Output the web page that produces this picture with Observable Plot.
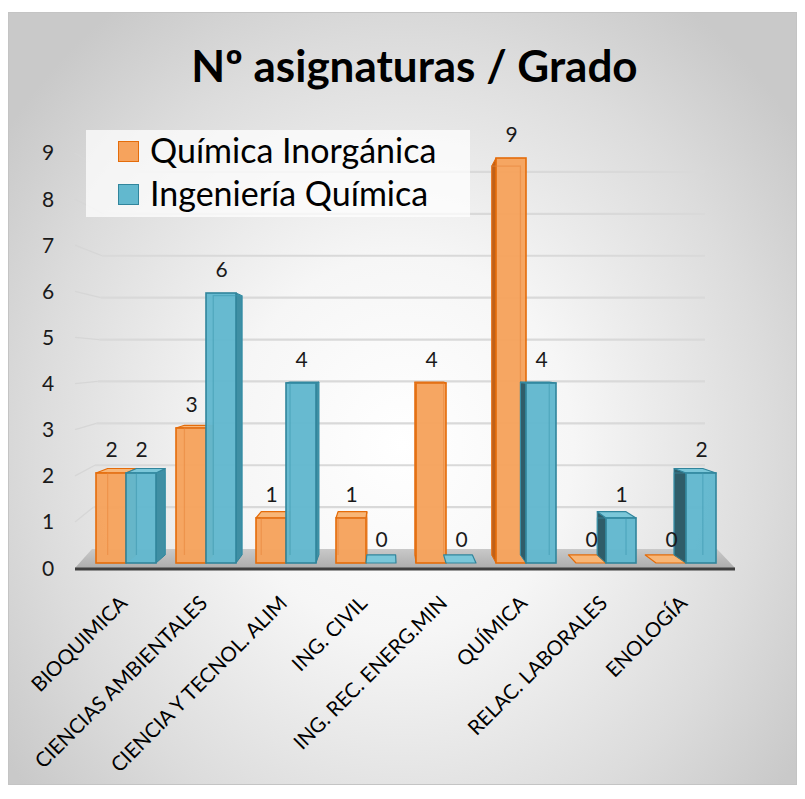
<!DOCTYPE html>
<html><head><meta charset="utf-8">
<script src="https://cdn.jsdelivr.net/npm/d3@7"></script>
<script src="https://cdn.jsdelivr.net/npm/@observablehq/plot@0.6"></script>
<style>
html,body{margin:0;padding:0;background:#fff;}
body{width:805px;height:799px;position:relative;overflow:hidden;font-family:Lato, sans-serif;}
#frame{position:absolute;left:8px;top:12px;width:789px;height:773px;box-sizing:border-box;border:1px solid #c4c4c4;
 background: radial-gradient(ellipse 62% 70% at 50% 56%, #ffffff 0%, #f6f6f6 35%, #dcdcdc 75%, #c9c9c9 100%);}
#title{position:absolute;left:20px;top:39px;width:789px;text-align:center;font-weight:700;font-size:44px;line-height:52.8px;color:#000;white-space:nowrap;}
#chart{position:absolute;left:8px;top:122px;}
#legend{position:absolute;left:86px;top:130px;width:384px;height:87px;background:rgba(255,255,255,0.72);}
.lrow{position:absolute;left:0;width:384px;height:43px;font-size:34px;line-height:40px;color:#000;white-space:nowrap;}
.lrow .sw{position:absolute;left:32px;top:11px;width:19px;height:19px;border:1.5px solid;}
.lrow .lt{position:absolute;left:64px;top:0px;}
</style>
</head><body>
<div id="frame"></div>
<div id="title"></div>
<div id="chart"></div>
<div id="legend"></div>
<script>
// ---- data ----
const titleText = "Nº asignaturas / Grado";
const categories = ["BIOQUIMICA","CIENCIAS AMBIENTALES","CIENCIA Y TECNOL. ALIM","ING. CIVIL","ING. REC. ENERG.MIN","QUÍMICA","RELAC. LABORALES","ENOLOGÍA"];
const seriesNames = ["Química Inorgánica","Ingeniería Química"];
const quimicaInorganica = [2,3,1,1,4,9,0,0];
const ingenieriaQuimica = [2,6,4,0,0,4,1,2];
const yTicks = [0,1,2,3,4,5,6,7,8,9];

// ---- styles ----
const styles = [
  {front:"#F6A35D", stroke:"#E46C0A", top:"#F8B677", sideR:"#E0812F", sideL:"#BF6118", back:"#E8853A"},
  {front:"#62B8CE", stroke:"#31859C", top:"#7BC7D9", sideR:"#3F8FA4", sideL:"#2F5D69", back:"#3C97AE"}
];

const rowsO = categories.map((c,i)=>({cat:c, series:seriesNames[0], value:quimicaInorganica[i]}));
const rowsB = categories.map((c,i)=>({cat:c, series:seriesNames[1], value:ingenieriaQuimica[i]}));

const NS = "http://www.w3.org/2000/svg";
function el(tag, attrs){const e=document.createElementNS(NS,tag);for(const k in attrs)e.setAttribute(k,attrs[k]);return e;}
const pts = a => a.map(p=>p[0].toFixed(2)+","+p[1].toFixed(2)).join(" ");
function perspective(scales, dim){
  const x0=dim.marginLeft, x1=dim.width-dim.marginRight;
  const vx = x0+(x1-x0)*0.47, vy = scales.y(4.5);
  return (px,py,k)=>[vx+(px-vx)*k, vy+(py-vy)*k];
}

function scene(index, scales, values, dim){
  const P = perspective(scales, dim);
  const y = scales.y;
  const x0=dim.marginLeft, x1=dim.width-dim.marginRight;
  const yF = v => P(0,y(v),1.025)[1];
  const yB = v => P(0,y(v),0.931)[1];
  const g = el("g",{});
  const defs = el("defs",{});
  const lg = el("linearGradient",{id:"floorGrad",x1:0,y1:0,x2:0,y2:1});
  lg.append(el("stop",{offset:"0%","stop-color":"#c9c9c9"}));
  lg.append(el("stop",{offset:"100%","stop-color":"#adadad"}));
  defs.append(lg); g.append(defs);
  for(const v of yTicks){ if(v===0) continue;
    const xl = x0+6+13*v/9;
    g.append(el("line",{x1:x0-11,y1:yF(v),x2:xl,y2:yB(v),stroke:"#d6d6d6","stroke-width":1.3}));
    g.append(el("line",{x1:xl,y1:yB(v),x2:x1-21,y2:yB(v),stroke:"#d9d9d9","stroke-width":2.2}));
  }
  g.append(el("polygon",{points:pts([[x0-11,yF(0)],[x1+9,yF(0)],[x1-9,yB(0)],[x0+6,yB(0)]]),fill:"url(#floorGrad)"}));
  g.append(el("line",{x1:x0-11,y1:yF(0)+1,x2:x1+9,y2:yF(0)+1,stroke:"#3f3f3f","stroke-width":3}));
  for(const v of yTicks){
    const t=el("text",{x:x0-38,y:yF(v),"text-anchor":"middle",dy:"0.36em","font-size":21,fill:"#1a1a1a"});
    t.textContent=String(v); g.append(t);
  }
  return g;
}

function bar3d(st){
  return function(index, scales, values, dim, context, next){
    const g = next(index, scales, values, dim, context);
    const P = perspective(scales, dim);
    const k = 0.96;
    const vx = P(0,0,0)[0];
    const rects = Array.from(g.querySelectorAll("rect"));
    for(const r of rects){
      const ax=+r.getAttribute("x"), ay=+r.getAttribute("y"), w=+r.getAttribute("width"), h=+r.getAttribute("height");
      const xa=ax, xb=ax+w, yt=ay, yb=ay+h;
      const [bxa,byt]=P(xa,yt,k), [bxb]=P(xb,yt,k), [,byb]=P(xa,yb,k);
      const grp = el("g",{});
      if(h>0.5){
        if(xb < vx){
          grp.append(el("polygon",{points:pts([[xb,yt],[xb,yb],[bxb,byb],[bxb,byt]]),fill:st.sideR,stroke:st.stroke,"stroke-width":1,"stroke-linejoin":"round"}));
        } else if(xa > vx){
          grp.append(el("polygon",{points:pts([[xa,yt],[xa,yb],[bxa,byb],[bxa,byt]]),fill:st.sideL,stroke:st.stroke,"stroke-width":1,"stroke-linejoin":"round"}));
        }
      }
      if(byt < yt){
        grp.append(el("polygon",{points:pts([[xa,yt],[xb,yt],[bxb,byt],[bxa,byt]]),fill:st.top,stroke:st.stroke,"stroke-width":1.2,"stroke-linejoin":"round"}));
      }
      if(h>0.5){
        grp.append(el("rect",{x:xa,y:yt,width:w,height:h,fill:st.front,"fill-opacity":0.97,stroke:st.stroke,"stroke-width":1.6}));
        const bt = Math.max(byt, yt);
        grp.append(el("polyline",{points:pts([[bxa,byb],[bxa,bt],[bxb,bt],[bxb,byb]]),fill:"none",stroke:st.back,"stroke-opacity":0.55,"stroke-width":1.2}));
      }
      r.replaceWith(grp);
    }
    return g;
  };
}

const W=789, H=663;
const chart = Plot.plot({
  width:W, height:H,
  marginLeft:78, marginRight:71, marginTop:36, marginBottom:222,
  style:{background:"transparent", overflow:"visible", fontFamily:"Lato, sans-serif"},
  x:{type:"band", domain:categories, paddingInner:0.25, paddingOuter:0.125, axis:null},
  y:{domain:[0,9], axis:null},
  marks:[
    scene,
    Plot.barY(rowsO,{x:"cat", y:"value", insetRight:30, fill:styles[0].front, render:bar3d(styles[0])}),
    Plot.barY(rowsB,{x:"cat", y:"value", insetLeft:30, fill:styles[1].front, render:bar3d(styles[1])}),
    Plot.text(rowsO,{x:"cat", y:"value", text:d=>String(d.value), dx:-15, dy:-23, fontSize:21, fill:"#1a1a1a"}),
    Plot.text(rowsB,{x:"cat", y:"value", text:d=>String(d.value), dx:15, dy:-23, fontSize:21, fill:"#1a1a1a"}),
    Plot.text(categories,{x:d=>d, text:d=>d, frameAnchor:"bottom", rotate:-45, textAnchor:"end", lineAnchor:"bottom", dx:2, dy:41, fontSize:20.5, fill:"#000"})
  ]
});
document.getElementById("chart").append(chart);
document.getElementById("title").textContent = titleText;
const leg = document.getElementById("legend");
seriesNames.forEach((name,i)=>{
  const row=document.createElement("div"); row.className="lrow"; row.style.top=(i*43)+"px";
  const sw=document.createElement("span"); sw.className="sw"; sw.style.background=styles[i].front; sw.style.borderColor=styles[i].stroke;
  const lt=document.createElement("span"); lt.className="lt"; lt.textContent=name;
  row.append(sw,lt); leg.append(row);
});
</script>
</body></html>
